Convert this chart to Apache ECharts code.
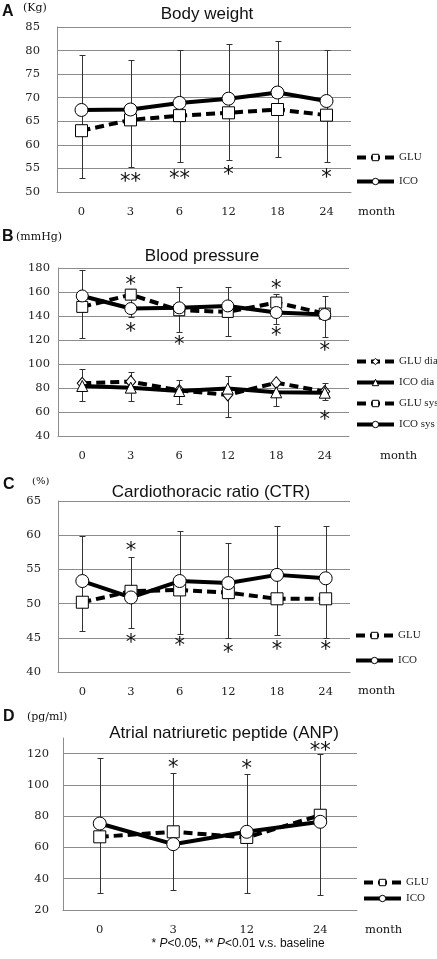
<!DOCTYPE html>
<html><head><meta charset="utf-8">
<script src="https://cdn.jsdelivr.net/npm/echarts@6/dist/echarts.min.js"></script>
<style>html,body{margin:0;padding:0;background:#fff}#c{width:437px;height:959px}</style>
</head><body><div id="c"></div>
<script>
// ---------- Panel A: Body weight ----------
const bwMonths = ['0', '3', '6', '12', '18', '24'];
const bwAxis = [50, 85, 5];
const bwGLU = [63.0, 65.3, 66.2, 66.8, 67.5, 66.3];
const bwICO = [67.4, 67.5, 68.9, 69.8, 71.1, 69.3];
const bwErrHigh = [79.0, 78.1, 80.2, 81.5, 82.0, 80.1];
const bwErrLow = [53.0, 55.4, 56.3, 56.8, 57.5, 56.3];
const bwStarPos = [1, 2, 3, 5];
const bwStarVal = [53.0, 53.7, 54.6, 53.9];
const bwStarText = ['**', '**', '*', '*'];

// ---------- Panel B: Blood pressure ----------
const bpMonths = ['0', '3', '6', '12', '18', '24'];
const bpAxis = [40, 180, 20];
const bpGLUdia = [83.9, 85.3, 78.0, 74.2, 84.4, 77.0];
const bpICOdia = [81.7, 80.3, 77.5, 79.5, 76.4, 76.1];
const bpGLUsys = [147.6, 157.8, 144.8, 143.4, 151.2, 142.0];
const bpICOsys = [156.7, 146.2, 146.8, 148.4, 142.9, 141.2];
const bpSysErrHigh = [178.3, 162.8, 164.2, 164.2, 158.7, 156.7];
const bpSysErrLow = [121.8, 139.3, 126.8, 123.5, 133.7, 122.7];
const bpDiaErrHigh = [95.8, 93.6, 86.4, 89.8, 86.0, 83.9];
const bpDiaErrLow = [69.5, 69.5, 67.0, 55.9, 65.3, 70.3];
const bpStarPos = [1, 1, 2, 4, 4, 5, 5];
const bpStarVal = [169.8, 130.1, 119.9, 166.1, 127.4, 114.3, 57.0];
const bpStarText = ['*', '*', '*', '*', '*', '*', '*'];

// ---------- Panel C: CTR ----------
const ctrMonths = ['0', '3', '6', '12', '18', '24'];
const ctrAxis = [40, 65, 5];
const ctrGLU = [50.2, 51.8, 52.0, 51.6, 50.7, 50.7];
const ctrICO = [53.3, 50.9, 53.3, 53.0, 54.2, 53.7];
const ctrErrHigh = [59.9, 56.8, 60.6, 58.9, 61.4, 61.4];
const ctrErrLow = [46.0, 46.4, 45.5, 45.0, 45.4, 45.0];
const ctrStarPos = [1, 1, 2, 3, 4, 5];
const ctrStarVal = [58.4, 44.9, 44.5, 43.5, 43.8, 43.9];
const ctrStarText = ['*', '*', '*', '*', '*', '*'];

// ---------- Panel D: ANP ----------
const anpMonths = ['0', '3', '12', '24'];
const anpAxis = [20, 130, 20];
const anpGLU = [66.8, 70.0, 66.4, 80.6];
const anpICO = [75.3, 62.1, 70.0, 76.4];
const anpErrHigh = [117.4, 107.7, 107.2, 120.0];
const anpErrLow = [30.6, 32.8, 31.1, 29.6];
const anpStarPos = [1, 2, 3];
const anpStarVal = [113.6, 113.0, 124.7];
const anpStarText = ['*', '*', '**'];

// ---------- styling ----------
const SERIF = '"DejaVu Serif", "Liberation Serif", serif';
const SANS = '"Liberation Sans", Arial, sans-serif';
const GRIDC = '#8c8c8c';
const grids = [
  {left: 57, top: 27, width: 294, height: 165},
  {left: 58, top: 268, width: 291, height: 168},
  {left: 58, top: 501, width: 292, height: 171},
  {left: 63, top: 738, width: 294, height: 172}
];
const labelMargins = [17, 8, 17, 14];

function xAx(i, data) {
  return {type: 'category', gridIndex: i, data: data, boundaryGap: true,
    axisTick: {show: false},
    axisLine: {show: true, lineStyle: {color: GRIDC, width: 1}},
    axisLabel: {margin: 14, fontFamily: SERIF, fontSize: 11.5, color: '#222'},
    splitLine: {show: false}};
}
function yAx(i, ax, hideMax) {
  return {type: 'value', gridIndex: i, min: ax[0], max: ax[1], interval: ax[2],
    axisTick: {show: false},
    axisLine: {show: true, lineStyle: {color: GRIDC, width: 1}},
    axisLabel: {margin: labelMargins[i], fontFamily: SERIF, fontSize: 11.5, color: '#222', showMaxLabel: !hideMax},
    splitLine: {show: true, showMaxLine: !hideMax, lineStyle: {color: GRIDC, width: 1}}};
}
function errSeries(i, hi, lo) {
  return {type: 'custom', xAxisIndex: i, yAxisIndex: i, z: 1, silent: true,
    data: hi.map((h, k) => [k, lo[k], h]),
    encode: {x: 0, y: [1, 2]},
    renderItem: function (params, api) {
      const b = api.coord([api.value(0), api.value(1)]);
      const t = api.coord([api.value(0), api.value(2)]);
      const x = Math.round(b[0]) + 0.5;
      const yb = Math.round(b[1]) + 0.5, yt = Math.round(t[1]) + 0.5;
      const st = {stroke: '#333', lineWidth: 1};
      return {type: 'group', children: [
        {type: 'line', shape: {x1: x, y1: yb, x2: x, y2: yt}, style: st},
        {type: 'line', shape: {x1: x - 3, y1: yt, x2: x + 3, y2: yt}, style: st},
        {type: 'line', shape: {x1: x - 3, y1: yb, x2: x + 3, y2: yb}, style: st}
      ]};
    }};
}
function starSeries(i, pos, vals, texts) {
  return {type: 'custom', xAxisIndex: i, yAxisIndex: i, z: 5, silent: true,
    data: pos.map((p, k) => [p, vals[k]]),
    encode: {x: 0, y: 1},
    renderItem: function (params, api) {
      const c = api.coord([api.value(0), api.value(1)]);
      return {type: 'text', x: c[0], y: c[1] + 5,
        style: {text: texts[params.dataIndex], font: '21px "DejaVu Sans"', fill: '#111',
          align: 'center', verticalAlign: 'middle'}};
    }};
}
function lineSeries(i, name, data, symbol, size, dashed, z) {
  return {type: 'line', name: name, xAxisIndex: i, yAxisIndex: i, data: data,
    z: z, symbol: symbol, symbolSize: size, showSymbol: true, silent: true,
    lineStyle: {color: '#000', width: 4, type: dashed ? [9, 5] : 'solid'},
    itemStyle: {color: '#fff', borderColor: '#000', borderWidth: 1}};
}
function legend(left, top, gap, names) {
  return {orient: 'vertical', left: left, top: top, itemGap: gap, itemWidth: 37, itemHeight: 8,
    padding: 0, selectedMode: false, data: names,
    lineStyle: {width: 4},
    itemStyle: {borderWidth: 1},
    textStyle: {fontFamily: '"Liberation Serif", serif', fontSize: 11, color: '#222'}};
}
function txt(x, y, text, font, align) {
  return {type: 'text', x: x, y: y, style: {text: text, font: font, fill: '#111', align: align || 'left', verticalAlign: 'middle'}};
}

const option = {
  animation: false,
  backgroundColor: '#fff',
  grid: grids,
  title: [
    {text: 'Body weight', left: 202, top: 1, textAlign: 'center', textStyle: {fontFamily: SANS, fontSize: 17, fontWeight: 'normal', color: '#111'}},
    {text: 'Blood pressure', left: 197, top: 243, textAlign: 'center', textStyle: {fontFamily: SANS, fontSize: 17, fontWeight: 'normal', color: '#111'}},
    {text: 'Cardiothoracic ratio (CTR)', left: 206, top: 479, textAlign: 'center', textStyle: {fontFamily: SANS, fontSize: 17, fontWeight: 'normal', color: '#111'}},
    {text: 'Atrial natriuretic peptide (ANP)', left: 219, top: 720, textAlign: 'center', textStyle: {fontFamily: SANS, fontSize: 17, fontWeight: 'normal', color: '#111'}}
  ],
  legend: [
    legend(355, 152, 13, ['GLU', 'ICO']),
    legend(355, 356, 10, ['GLU dia', 'ICO dia', 'GLU sys', 'ICO sys']),
    legend(354, 630, 14, ['GLU', 'ICO']),
    legend(362, 877, 5, ['GLU', 'ICO'])
  ],
  xAxis: [xAx(0, bwMonths), xAx(1, bpMonths), xAx(2, ctrMonths), xAx(3, anpMonths)],
  yAxis: [yAx(0, bwAxis), yAx(1, bpAxis), yAx(2, ctrAxis), yAx(3, anpAxis, true)],
  series: [
    errSeries(0, bwErrHigh, bwErrLow),
    lineSeries(0, 'GLU', bwGLU, 'rect', 12, true, 2),
    lineSeries(0, 'ICO', bwICO, 'circle', 13, false, 3),
    starSeries(0, bwStarPos, bwStarVal, bwStarText),

    errSeries(1, bpSysErrHigh, bpSysErrLow),
    errSeries(1, bpDiaErrHigh, bpDiaErrLow),
    lineSeries(1, 'GLU dia', bpGLUdia, 'diamond', [10, 12], true, 2),
    lineSeries(1, 'ICO dia', bpICOdia, 'triangle', 11, false, 3),
    lineSeries(1, 'GLU sys', bpGLUsys, 'rect', 11, true, 2),
    lineSeries(1, 'ICO sys', bpICOsys, 'circle', 12, false, 3),
    starSeries(1, bpStarPos, bpStarVal, bpStarText),

    errSeries(2, ctrErrHigh, ctrErrLow),
    lineSeries(2, 'GLU', ctrGLU, 'rect', 12, true, 2),
    lineSeries(2, 'ICO', ctrICO, 'circle', 13, false, 3),
    starSeries(2, ctrStarPos, ctrStarVal, ctrStarText),

    errSeries(3, anpErrHigh, anpErrLow),
    lineSeries(3, 'GLU', anpGLU, 'rect', 12, true, 2),
    lineSeries(3, 'ICO', anpICO, 'circle', 13, false, 3),
    starSeries(3, anpStarPos, anpStarVal, anpStarText)
  ],
  graphic: [
    txt(2, 12, 'A', 'bold 16px ' + SANS),
    txt(23, 8, '(Kg)', '11px ' + SERIF),
    txt(358, 212, 'month', '11.5px ' + SERIF),
    txt(2, 237, 'B', 'bold 16px ' + SANS),
    txt(16, 237, '(mmHg)', '11px ' + SERIF),
    txt(380, 456, 'month', '11.5px ' + SERIF),
    txt(3, 485, 'C', 'bold 16px ' + SANS),
    txt(32, 481, '(%)', '10px ' + SERIF),
    txt(358, 691, 'month', '11.5px ' + SERIF),
    txt(3, 717, 'D', 'bold 16px ' + SANS),
    txt(27, 717, '(pg/ml)', '11px ' + SERIF),
    txt(365, 930, 'month', '11.5px ' + SERIF),
    {type: 'text', x: 238, y: 944, style: {
      text: '* {i|P}<0.05, ** {i|P}<0.01 v.s. baseline',
      font: '12px ' + SANS, fill: '#111', align: 'center', verticalAlign: 'middle',
      rich: {i: {fontStyle: 'italic', fontFamily: SANS, fontSize: 12, fill: '#111'}}}}
  ]
};
const chart = echarts.init(document.getElementById('c'), null, {renderer: 'canvas'});
chart.setOption(option);
</script>
</body></html>
